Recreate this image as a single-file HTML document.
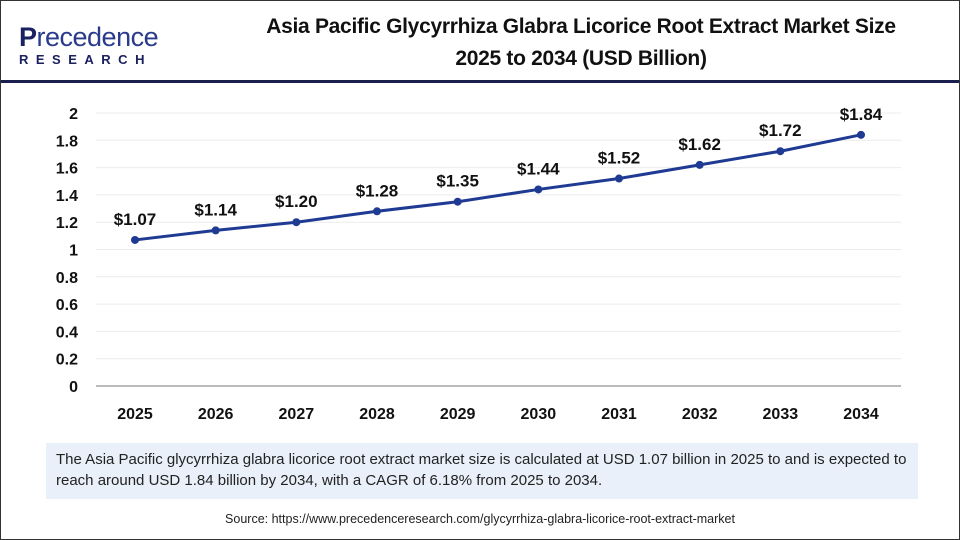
<!DOCTYPE html>
<html><head><meta charset="utf-8"><style>
body{margin:0;background:#fff;}
#wrap{position:relative;width:958px;height:538px;border:1px solid #333;background:#fff;font-family:"Liberation Sans",sans-serif;overflow:hidden}
.title{position:absolute;left:200px;width:760px;top:10px;text-align:center;font-weight:bold;font-size:21px;line-height:32px;color:#111;letter-spacing:-0.3px}
.rule{position:absolute;left:0;top:79px;width:958px;height:3px;background:#1a1f4e}
.note{position:absolute;left:45px;top:442px;width:852px;height:44px;padding:6px 10px;background:#e9f0fa;font-size:15px;line-height:21px;color:#222}
.src{position:absolute;left:0;width:958px;top:511px;text-align:center;font-size:12.5px;color:#222}
</style></head><body>
<div id="wrap">
<div style="position:absolute;left:18px;top:22px">
<div style="font-size:27px;font-weight:bold;color:#1a2060;letter-spacing:-0.5px;line-height:28px">P<span style="color:#2a3a8c;font-weight:normal">recedence</span></div>
<div style="font-size:13px;font-weight:bold;color:#1a2060;letter-spacing:7.5px;margin-top:1px">RESEARCH</div>
</div>
<div class="title">Asia Pacific Glycyrrhiza Glabra Licorice Root Extract Market Size<br>2025 to 2034 (USD Billion)</div>
<div class="rule"></div>
<svg id="chart" width="958" height="440" style="position:absolute;left:0;top:0"></svg>
<div class="note">The Asia Pacific glycyrrhiza glabra licorice root extract market size is calculated at USD 1.07 billion in 2025 to and is expected to reach around USD 1.84 billion by 2034, with a CAGR of 6.18% from 2025 to 2034.</div>
<div class="src">Source: https://www.precedenceresearch.com/glycyrrhiza-glabra-licorice-root-extract-market</div>
</div>
<script>
const categories=["2025","2026","2027","2028","2029","2030","2031","2032","2033","2034"];
const values=[1.07,1.14,1.20,1.28,1.35,1.44,1.52,1.62,1.72,1.84];
const labels=["$1.07","$1.14","$1.20","$1.28","$1.35","$1.44","$1.52","$1.62","$1.72","$1.84"];
const yTicks=[0,0.2,0.4,0.6,0.8,1,1.2,1.4,1.6,1.8,2];
const NS="http://www.w3.org/2000/svg";
const svg=document.getElementById('chart');
const y=v=>385-v*(385-112)/2;
const x=i=>134+i*(860-134)/(categories.length-1);
function mk(t,a){const e=document.createElementNS(NS,t);for(const k in a)e.setAttribute(k,a[k]);svg.appendChild(e);return e;}
yTicks.forEach(t=>{
 const g=mk('line',{x1:95,x2:900,y1:y(t),y2:y(t),stroke:t===0?'#bbb':'#ececec','stroke-width':t===0?2:1});
 
 
 const l=mk('text',{x:77,y:y(t)+6,'text-anchor':'end','font-size':16,'font-weight':'bold',fill:'#111','font-family':'Liberation Sans'});
 l.textContent=String(t);
 
 
});
categories.forEach((c,i)=>{
 const l=mk('text',{x:x(i),y:418,'text-anchor':'middle','font-size':16,'font-weight':'bold',fill:'#111','font-family':'Liberation Sans'});
 l.textContent=c;
 
 
});
const pl=mk('polyline',{points:values.map((v,i)=>x(i)+','+y(v)).join(' '),fill:'none',stroke:'#1f3a93','stroke-width':3});


values.forEach((v,i)=>{
 const p=mk('circle',{cx:x(i),cy:y(v),r:4,fill:'#1f3a93'});
 
 
 const t=mk('text',{x:x(i),y:y(v)-15,'text-anchor':'middle','font-size':17,'font-weight':'bold',fill:'#111','font-family':'Liberation Sans'});
 t.textContent=labels[i];
 
 
});
</script>
</body></html>
